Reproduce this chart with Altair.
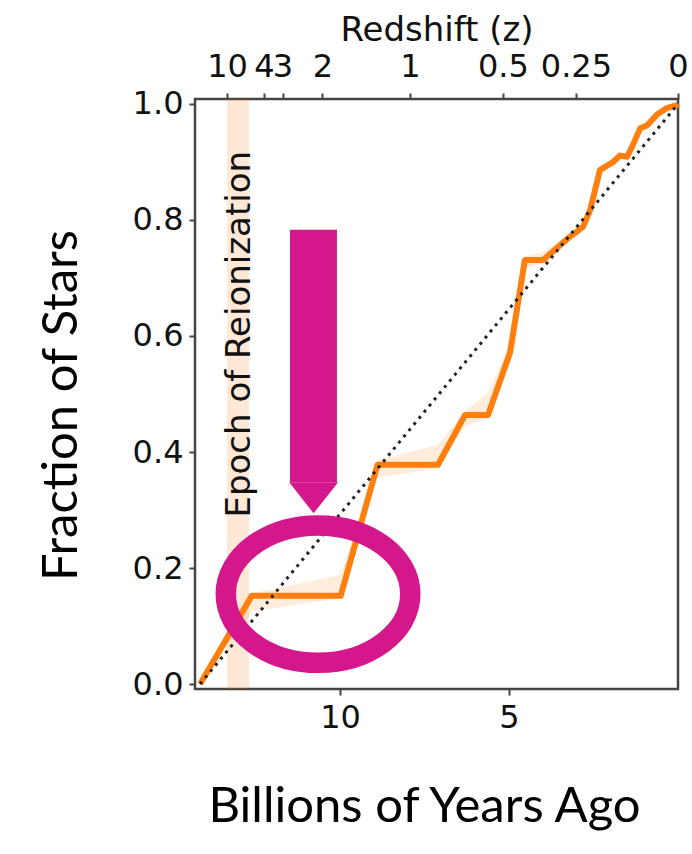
import altair as alt
import pandas as pd

# ---- data ----
# cumulative fraction of stars vs lookback time (Gyr)
time_gyr = [14.14, 12.61, 9.98, 8.89, 7.10, 6.30, 5.62, 4.97, 4.53, 3.99, 3.20, 2.81,
            2.60, 2.31, 1.92, 1.72, 1.51, 1.36, 1.12, 0.92, 0.62, 0.33, 0.03, 0.0]
frac_stars = [0.0, 0.152, 0.152, 0.378, 0.378, 0.464, 0.464, 0.571, 0.731, 0.731, 0.771, 0.788,
              0.817, 0.886, 0.900, 0.911, 0.909, 0.926, 0.958, 0.963, 0.982, 0.993, 0.998, 1.0]
band_low = [0.0, 0.125, 0.148, 0.356, 0.372, 0.445, 0.458, 0.556, 0.716, 0.725, 0.765, 0.782,
            0.810, 0.880, 0.895, 0.906, 0.904, 0.920, 0.952, 0.958, 0.978, 0.990, 0.997, 1.0]
band_high = [0.0, 0.156, 0.188, 0.386, 0.412, 0.470, 0.502, 0.586, 0.738, 0.745, 0.777, 0.794,
             0.823, 0.892, 0.905, 0.917, 0.915, 0.932, 0.963, 0.968, 0.986, 0.996, 0.999, 1.0]

# constant star-formation reference (dotted diagonal)
diag_time = [14.14, 0.0]
diag_frac = [0.0, 1.0]

# redshift tick labels on the top axis and their lookback times (Gyr)
z_labels = ["10", "4", "3", "2", "1", "0.5", "0.25", "0"]
z_lookback = [13.34, 12.25, 11.70, 10.52, 7.93, 5.18, 3.02, 0.0]

# bottom axis ticks (Gyr) and y ticks
x_ticks = [10, 5]
y_ticks = [0.0, 0.2, 0.4, 0.6, 0.8, 1.0]

# epoch of reionization (z = 10 .. 6)
reion_start = [13.34]
reion_end = [12.69]
reion_label = ["Epoch of Reionization"]
reion_label_t = [12.65]
reion_label_f = [0.603]

# annotation arrow and ellipse (data coordinates)
arrow_t_left = [11.48]
arrow_t_right = [10.09]
arrow_top = [0.783]
arrow_base = [0.348]
arrow_t_center = [10.78]
ellipse_t = [10.65]
ellipse_f = [0.155]

ORANGE = "#ff7f0e"
MAGENTA = "#d4178b"
TICK_FONT = "DejaVu Sans"
TITLE_FONT = "Lato"

xscale = alt.Scale(domain=[0, 14.29], reverse=True, nice=False, zero=False)
yscale = alt.Scale(domain=[-0.0086, 1.0086], nice=False, zero=False)

main_df = pd.DataFrame({"t": time_gyr, "f": frac_stars, "lo": band_low, "hi": band_high})
diag_df = pd.DataFrame({"t": diag_time, "f": diag_frac})
reion_df = pd.DataFrame({"t": reion_start, "t2": reion_end})
label_df = pd.DataFrame({"t": reion_label_t, "f": reion_label_f, "txt": reion_label})
arrow_df = pd.DataFrame({"t": arrow_t_left, "t2": arrow_t_right, "f": arrow_top, "f2": arrow_base})
head_df = pd.DataFrame({"t": arrow_t_center, "f": arrow_base})
ell_df = pd.DataFrame({"t": ellipse_t, "f": ellipse_f})

label_expr = " : ".join(
    [f"datum.value == {v} ? '{l}'" for v, l in zip(z_lookback, z_labels)]
) + " : ''"

bottom_axis = alt.Axis(
    orient="bottom", values=x_ticks, format="d", grid=False, domain=False,
    tickSize=6, tickWidth=2, tickColor="#444", labelPadding=7,
    labelFont=TICK_FONT, labelFontSize=32, labelColor="#111",
    title="Billions of Years Ago", titleFont=TITLE_FONT, titleFontSize=49,
    titleFontWeight="normal", titleColor="#000", titleX=229, titleY=132,
    titleBaseline="alphabetic", titleAlign="center",
)
top_axis = alt.Axis(
    orient="top", values=z_lookback, labelExpr=label_expr, grid=False, domain=False,
    tickSize=6, tickWidth=2, tickColor="#444", labelPadding=17,
    labelBaseline="alphabetic", labelOverlap=False, labelFlush=False, labelBound=False,
    labelFont=TICK_FONT, labelFontSize=32, labelColor="#111",
    title="Redshift (z)", titleFont=TICK_FONT, titleFontSize=34,
    titleFontWeight="normal", titleColor="#111", titleX=241.5, titleY=-59,
    titleBaseline="alphabetic", titleAlign="center",
)
left_axis = alt.Axis(
    orient="left", values=y_ticks, format=".1f", grid=False, domain=False,
    tickSize=6, tickWidth=2, tickColor="#444", labelPadding=6,
    labelFont=TICK_FONT, labelFontSize=32, labelColor="#111",
    title="Fraction of Stars", titleFont=TITLE_FONT, titleFontSize=49,
    titleFontWeight="normal", titleColor="#000", titleX=-119, titleY=306,
    titleAngle=270, titleBaseline="alphabetic", titleAlign="center",
)

reion = alt.Chart(reion_df).mark_rect(color=ORANGE, opacity=0.17).encode(
    x=alt.X("t:Q", scale=xscale, axis=bottom_axis), x2="t2:Q"
)
reion_text = alt.Chart(label_df).mark_text(
    angle=270, align="center", baseline="alphabetic", font=TICK_FONT, fontSize=34, color="#111"
).encode(
    x=alt.X("t:Q", scale=xscale, axis=None),
    y=alt.Y("f:Q", scale=yscale, axis=left_axis),
    text="txt:N",
)
band = alt.Chart(main_df).mark_area(color=ORANGE, opacity=0.15).encode(
    x=alt.X("t:Q", scale=xscale, axis=None),
    y=alt.Y("lo:Q", scale=yscale, axis=None), y2="hi:Q",
)
line = alt.Chart(main_df).mark_line(color=ORANGE, strokeWidth=6, strokeJoin="round").encode(
    x=alt.X("t:Q", scale=xscale, axis=None),
    y=alt.Y("f:Q", scale=yscale, axis=None),
)
diag = alt.Chart(diag_df).mark_line(color="#222", strokeWidth=3, strokeDash=[3, 5]).encode(
    x=alt.X("t:Q", scale=xscale, axis=top_axis),
    y=alt.Y("f:Q", scale=yscale, axis=None),
)
shaft = alt.Chart(arrow_df).mark_rect(color=MAGENTA).encode(
    x=alt.X("t:Q", scale=xscale, axis=None), x2="t2:Q",
    y=alt.Y("f:Q", scale=yscale, axis=None), y2="f2:Q",
)
head = alt.Chart(head_df).mark_point(
    shape="M -1 0 L 1 0 L 0 1.27 Z", size=2401, filled=True, color=MAGENTA,
    opacity=1, strokeWidth=0
).encode(
    x=alt.X("t:Q", scale=xscale, axis=None),
    y=alt.Y("f:Q", scale=yscale, axis=None),
)
ellipse = alt.Chart(ell_df).mark_point(
    shape="M -1 0 A 1 0.745 0 1 1 1 0 A 1 0.745 0 1 1 -1 0 Z", size=34040,
    filled=False, color=MAGENTA, opacity=1, strokeWidth=20.5
).encode(
    x=alt.X("t:Q", scale=xscale, axis=None),
    y=alt.Y("f:Q", scale=yscale, axis=None),
)

chart = alt.layer(
    reion, reion_text, band, line, diag, shaft, head, ellipse
).resolve_axis(x="independent", y="independent").properties(
    width=483, height=590,
    autosize=alt.AutoSizeParams(type="none"),
    padding={"left": 195, "top": 99, "right": 14, "bottom": 165},
    background="white",
).configure_view(stroke="#444", strokeWidth=2.5)

chart.save("out.html", embed_options={"renderer": "svg", "actions": False})
